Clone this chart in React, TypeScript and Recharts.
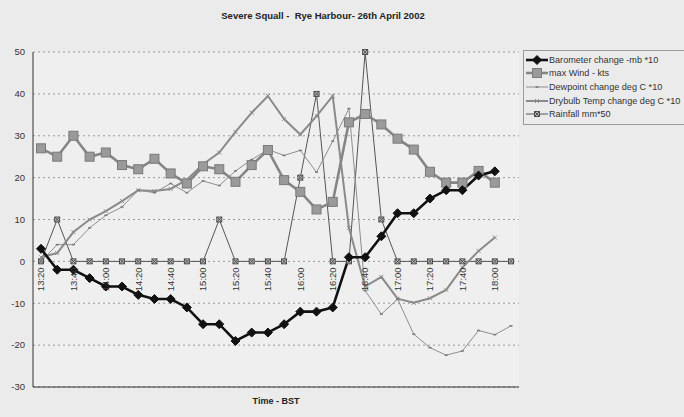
import { LineChart, Line, XAxis, YAxis, CartesianGrid, Legend } from 'recharts';

// 10-minute readings, 13:20 .. 18:10
const TIMES = [
  '13:20', '13:30', '13:40', '13:50', '14:00', '14:10', '14:20', '14:30', '14:40', '14:50',
  '15:00', '15:10', '15:20', '15:30', '15:40', '15:50', '16:00', '16:10', '16:20', '16:30',
  '16:40', '16:50', '17:00', '17:10', '17:20', '17:30', '17:40', '17:50', '18:00', '18:10',
];
const BAROMETER = [3, -2, -2, -4, -6, -6, -8, -9, -9, -11, -15, -15, -19, -17, -17, -15, -12, -12, -11, 1, 1, 6, 11.5, 11.5, 15, 17, 17, 20.5, 21.5, null];
const WIND = [27, 25, 30, 25, 26, 23, 22, 24.5, 21, 18.6, 22.7, 22, 19, 23, 26.6, 19.4, 16.6, 12.4, 14.2, 33.2, 35.2, 32.7, 29.3, 26.7, 21.4, 18.8, 18.8, 21.6, 18.8, null];
const DEWPOINT = [0, 4, 4, 8, 11, 13, 17, 16.4, 18.6, 16.4, 19.2, 18.1, 21.6, 24.3, 26.7, 25.3, 26.5, 21.3, 28.7, 36.5, -7, -12.6, -9, -17.4, -20.6, -22.4, -21.4, -16.5, -17.5, -15.4];
const DRYBULB = [1, 2, 7, 10, 12, 14.4, 17, 16.8, 17.3, 19.5, 23.2, 26, 30.9, 35.5, 39.5, 34, 30.3, 34.7, 39.5, 8, -6, -3.7, -8.9, -9.9, -8.8, -6.8, -1.5, 2.5, 5.7, null];
const RAINFALL = [0, 10, 0, 0, 0, 0, 0, 0, 0, 0, 0, 10, 0, 0, 0, 0, 20, 40, 0, 0, 50, 10, 0, 0, 0, 0, 0, 0, 0, 0];
const Y_TICKS = [-30, -20, -10, 0, 10, 20, 30, 40, 50];

const Y_MIN = -30;
const Y_MAX = 50;
const PLOT_TOP = 52;
const PLOT_BOTTOM = 387;
const FONT = '"Liberation Sans", Arial, sans-serif';

const data = TIMES.map((time, i) => ({
  time,
  baro: BAROMETER[i],
  wind: WIND[i],
  dew: DEWPOINT[i],
  dry: DRYBULB[i],
  rain: RAINFALL[i],
}));

// marker shapes
function diamond(cx: number, cy: number, k: string | number) {
  const s = 4.5;
  return <polygon key={k} points={`${cx},${cy - s} ${cx + s},${cy} ${cx},${cy + s} ${cx - s},${cy}`} fill="#111" stroke="#111" />;
}
function square(cx: number, cy: number, k: string | number) {
  return <rect key={k} x={cx - 4.5} y={cy - 4.5} width={9} height={9} fill="#9a9a9a" stroke="#7a7a7a" strokeWidth={1} />;
}
function dash(cx: number, cy: number, k: string | number) {
  return <line key={k} x1={cx - 1.5} y1={cy} x2={cx + 1.5} y2={cy} stroke="#777" strokeWidth={1.5} />;
}
function star(cx: number, cy: number, k: string | number) {
  return (
    <g key={k} stroke="#8a8a8a" strokeWidth={1}>
      <line x1={cx - 2} y1={cy - 2} x2={cx + 2} y2={cy + 2} />
      <line x1={cx - 2} y1={cy + 2} x2={cx + 2} y2={cy - 2} />
    </g>
  );
}
function boxX(cx: number, cy: number, k: string | number) {
  return (
    <g key={k} stroke="#444" strokeWidth={0.9}>
      <rect x={cx - 2.5} y={cy - 2.5} width={5} height={5} fill="#bbb" />
      <line x1={cx - 2.5} y1={cy - 2.5} x2={cx + 2.5} y2={cy + 2.5} />
      <line x1={cx - 2.5} y1={cy + 2.5} x2={cx + 2.5} y2={cy - 2.5} />
    </g>
  );
}

const SERIES = [
  { key: 'baro', name: 'Barometer change -mb *10', stroke: '#111', width: 2.6, marker: diamond },
  { key: 'wind', name: 'max Wind - kts', stroke: '#858585', width: 2.6, marker: square },
  { key: 'dew', name: 'Dewpoint change deg C *10', stroke: '#8e8e8e', width: 1, marker: dash },
  { key: 'dry', name: 'Drybulb Temp change deg C *10', stroke: '#8a8a8a', width: 2, marker: star },
  { key: 'rain', name: 'Rainfall mm*50', stroke: '#555', width: 1, marker: boxX },
];

function makeDot(marker: (cx: number, cy: number, k: string | number) => JSX.Element) {
  // eslint-disable-next-line @typescript-eslint/no-explicit-any
  return (p: any) => {
    const k = `${p.dataKey}-${p.index}`;
    if (p.cx == null || p.cy == null || p.value == null) return <g key={k} />;
    return marker(p.cx, p.cy, k);
  };
}

// time labels sit on the zero line, rotated
// eslint-disable-next-line @typescript-eslint/no-explicit-any
function TimeTick({ x, payload }: any) {
  const y0 = PLOT_TOP + ((Y_MAX - 0) / (Y_MAX - Y_MIN)) * (PLOT_BOTTOM - PLOT_TOP) + 6;
  return (
    <text x={x} y={y0} dy="0.35em" transform={`rotate(-90, ${x}, ${y0})`} textAnchor="end"
      fontSize={9.5} fill="#333" fontFamily={FONT}>
      {payload.value}
    </text>
  );
}

function LegendBox() {
  return (
    <div style={{ border: '1px solid #9a9a9a', padding: '2px 0 3px 2px', width: 200, fontFamily: FONT, fontSize: 9.1, color: '#333' }}>
      {SERIES.map(s => (
        <div key={s.key} style={{ display: 'flex', alignItems: 'center', height: 13.6 }}>
          <svg width={22} height={12} style={{ flex: 'none' }}>
            <line x1={0} y1={6} x2={22} y2={6} stroke={s.stroke} strokeWidth={s.width} />
            {s.marker(11, 6, s.key)}
          </svg>
          <span style={{ whiteSpace: 'nowrap', marginLeft: 1 }}>{s.name}</span>
        </div>
      ))}
    </div>
  );
}

export default function App() {
  return (
    <div style={{ position: 'absolute', left: 0, top: 0, width: 684, height: 417, overflow: 'hidden', background: '#ebebeb' }}>
      <div style={{ position: 'absolute', left: 0, width: 646, top: 10, textAlign: 'center', fontFamily: FONT, fontWeight: 'bold', fontSize: 9.5, color: '#222' }}>
        Severe Squall -&nbsp; Rye Harbour- 26th April 2002
      </div>
      <LineChart width={684} height={417} data={data} margin={{ top: PLOT_TOP, right: 165, bottom: 0, left: 0 }}>
        <CartesianGrid vertical={false} stroke="#9a9a9a" strokeDasharray="2 3" fill="#efefef" />
        <XAxis dataKey="time" height={30} interval={1} padding={{ left: 8, right: 8 }}
          axisLine={{ stroke: '#333' }} tickLine={false} tick={<TimeTick />} />
        <XAxis xAxisId="top" dataKey="time" orientation="top" height={0} padding={{ left: 8, right: 8 }}
          axisLine={{ stroke: '#333' }} tickLine={false} tick={false} />
        <YAxis domain={[Y_MIN, Y_MAX]} ticks={Y_TICKS} width={33} tickSize={0} tickMargin={8}
          axisLine={{ stroke: '#333' }} tickLine={false}
          tick={{ fontSize: 9.5, fill: '#333', fontFamily: FONT }} />
        <YAxis yAxisId="right" orientation="right" domain={[Y_MIN, Y_MAX]} width={0}
          axisLine={{ stroke: '#333' }} tickLine={false} tick={false} />
        <Legend layout="horizontal" verticalAlign="middle" align="center" content={<LegendBox />}
          wrapperStyle={{ position: 'absolute', left: 523, top: 50, width: 210, height: 'auto' }} />
        {SERIES.slice().reverse().map(s => (
          <Line key={s.key} dataKey={s.key} name={s.name} type="linear" stroke={s.stroke} strokeWidth={s.width}
            dot={makeDot(s.marker)} activeDot={false} isAnimationActive={false} connectNulls={false} />
        ))}
      </LineChart>
      <div style={{ position: 'absolute', left: 226, width: 100, top: 396, textAlign: 'center', fontFamily: FONT, fontWeight: 'bold', fontSize: 9, color: '#222' }}>
        Time - BST
      </div>
    </div>
  );
}
